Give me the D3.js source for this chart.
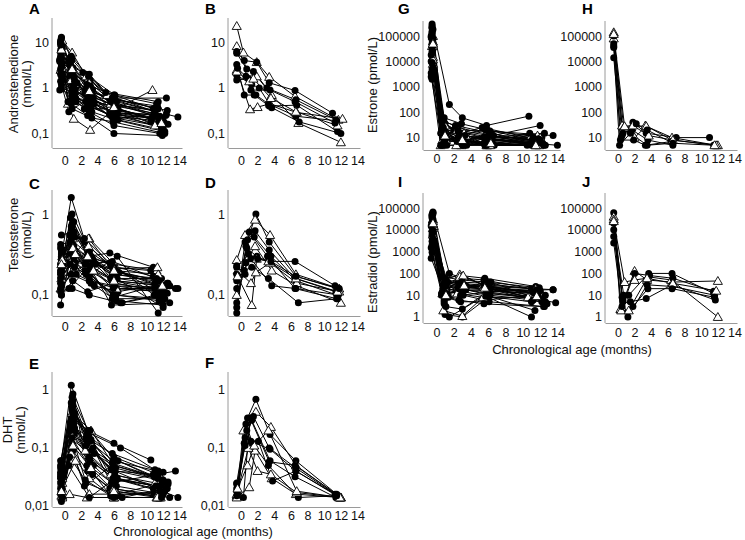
<!DOCTYPE html>
<html><head><meta charset="utf-8">
<script src="https://cdn.jsdelivr.net/npm/d3@7"></script>
<style>body{margin:0;background:#fff} text{font-family:"Liberation Sans",Arial,sans-serif}</style>
</head><body><svg id="c" width="745" height="540"></svg>
<script>
// ---------- axis ticks ----------
const xTicks = [0,2,4,6,8,10,12,14];
const xTickLabels = ["0","2","4","6","8","10","12","14"];
const yTicksAndro = [0.1,1,10];
const yLabAndro = ["0,1","1","10"];
const yTicksTesto = [0.1,1];
const yLabTesto = ["0,1","1"];
const yTicksDHT = [0.01,0.1,1];
const yLabDHT = ["0,01","0,1","1"];
const yTicksE1 = [10,100,1000,10000,100000];
const yLabE1 = ["10","100","1000","10000","100000"];
const yTicksE2 = [1,10,100,1000,10000,100000];
const yLabE2 = ["1","10","100","1000","10000","100000"];

// ---------- data: g = group (c: filled circle, t: open triangle), t = age (months), v = value ----------
const androA = [
 {g:"c",t:[-0.4,0.9,3.1,6.0,11.2],v:[12.5,4.2,1.5,0.55,0.3]},
 {g:"c",t:[-0.5,1.0,2.8,5.8,10.9],v:[9.8,2.8,1.1,0.45,0.25]},
 {g:"t",t:[-0.3,0.8,3.0,5.9,11.5],v:[8.5,2.0,1.3,0.5,0.22]},
 {g:"c",t:[-0.4,1.2,3.3,6.1,12.4],v:[7.2,1.5,0.8,0.6,0.6]},
 {g:"c",t:[-0.5,0.7,2.6,6.2,11.8],v:[6.0,3.1,2.0,0.35,0.2]},
 {g:"t",t:[-0.3,0.4,1.1,3.1,5.6,10.7],v:[5.5,0.45,0.21,0.12,0.3,0.9]},
 {g:"c",t:[-0.4,1.0,3.5,6.0,11.3],v:[4.5,1.2,0.6,0.25,0.15]},
 {g:"c",t:[-0.6,0.9,2.9,5.5,10.5],v:[3.8,0.9,0.5,0.3,0.18]},
 {g:"c",t:[-0.4,0.6,3.2,6.5,12.0],v:[3.0,1.8,0.4,0.2,0.12]},
 {g:"t",t:[-0.5,1.1,2.7,5.7,11.0],v:[2.5,0.6,0.55,0.4,0.15]},
 {g:"c",t:[-0.3,1.4,3.0,6.0,11.6],v:[2.2,0.5,0.3,0.15,0.1]},
 {g:"c",t:[-0.4,0.8,2.8,6.0,11.9],v:[1.8,0.45,0.25,0.1,0.09]},
 {g:"c",t:[-0.5,0.9,3.3,5.9,12.2],v:[1.4,0.35,0.22,0.18,0.1]},
 {g:"c",t:[-0.4,1.0,3.0,6.3,13.8],v:[1.0,0.8,0.7,0.5,0.23]},
 {g:"c",t:[-0.6,1.2,2.5,5.4,12.5],v:[0.9,0.7,0.9,0.6,0.32]},
 {g:"t",t:[-0.3,0.9,2.6,5.2,11.1],v:[11.0,6.0,1.8,0.7,0.3]},
 {g:"c",t:[-0.4,0.4,3.0,5.0,11.4],v:[8.0,0.5,2.0,0.8,0.5]},
 {g:"c",t:[-0.5,1.0,3.4,6.2,12.3],v:[5.0,2.2,0.9,0.4,0.25]},
 {g:"c",t:[-0.3,1.1,3.1,6.0,10.8],v:[3.5,1.0,1.1,0.7,0.35]},
 {g:"t",t:[-0.4,0.8,2.9,5.6,11.7],v:[2.8,1.5,0.7,0.45,0.3]},
 {g:"c",t:[-0.5,1.3,3.6,6.4,11.5],v:[2.0,0.9,0.45,0.28,0.2]},
 {g:"c",t:[-0.4,0.7,2.2,6.1,11.2],v:[6.8,3.5,2.2,0.7,0.45]},
 {g:"c",t:[-0.3,1.0,2.4,6.5,12.1],v:[1.5,1.1,0.35,0.35,0.18]},
 {g:"c",t:[-0.4,0.5,3.0,5.9,11.0],v:[1.2,0.3,0.6,0.2,0.28]},
 {g:"c",t:[-0.5,1.5,3.2,5.7,11.8],v:[10.0,1.3,0.5,0.3,0.13]},
 {g:"c",t:[-0.6,0.9,2.8,6.0,11.3],v:[4.0,0.7,0.35,0.55,0.4]},
 {g:"c",t:[-0.4,0.8,2.9,5.8,11.4],v:[13,5,1.8,0.6,0.35]},
 {g:"c",t:[-0.5,1.0,3.2,6.0,11.9],v:[11,2.5,0.9,0.3,0.2]},
 {g:"c",t:[-0.4,0.6,2.7,5.6,10.9],v:[9,3.8,1.2,0.5,0.27]},
 {g:"c",t:[-0.3,1.1,3.0,6.1,12.0],v:[7.5,1.0,0.45,0.22,0.14]},
 {g:"c",t:[-0.5,0.9,2.5,5.9,11.6],v:[6.5,1.9,0.75,0.32,0.24]},
 {g:"c",t:[-0.4,1.2,3.4,6.3,12.6],v:[5.2,1.4,0.55,0.35,0.16]},
 {g:"c",t:[-0.6,0.7,3.1,6.0,11.1],v:[4.2,2.4,0.65,0.42,0.33]},
 {g:"c",t:[-0.4,1.0,2.8,5.5,10.6],v:[3.2,0.8,0.4,0.26,0.22]},
 {g:"c",t:[-0.5,0.8,3.3,6.2,12.2],v:[2.6,0.55,0.3,0.2,0.11]},
 {g:"c",t:[-0.3,1.3,2.6,5.7,11.5],v:[1.6,0.6,0.5,0.24,0.19]},
 {g:"t",t:[-0.4,0.9,3.0,6.0,11.8],v:[7.0,2.6,0.85,0.38,0.17]},
 {g:"c",t:[-0.5,1.1,2.9,6.4,12.4],v:[8.8,1.7,0.62,0.28,0.26]}
];
const androB = [
 {g:"t",t:[-0.5,0.3,1.9,3.4,6.5,11.7],v:[23,6.0,3.7,1.75,0.65,0.2]},
 {g:"t",t:[-0.5,0.9,1.9,3.7,6.9,12.0],v:[8.3,2.2,1.8,0.7,0.17,0.064]},
 {g:"t",t:[-0.5,1.1,2.0,3.5,6.7,12.2],v:[2.5,0.34,0.38,0.45,0.29,0.21]},
 {g:"c",t:[-0.5,0.4,1.9,3.4,6.5,11.0],v:[6.3,4.0,3.7,1.3,0.88,0.28]},
 {g:"c",t:[-0.5,0.7,1.5,3.1,6.6,11.4],v:[5.8,2.6,2.3,1.0,0.55,0.2]},
 {g:"c",t:[-0.5,0.4,1.6,3.4,6.7,11.6],v:[3.3,0.7,0.7,0.4,0.42,0.11]},
 {g:"c",t:[-0.5,1.3,2.2,3.7,7.0,12.0],v:[1.9,1.2,1.0,0.37,0.18,0.1]},
 {g:"c",t:[-0.5,0.9,1.8,3.3,6.6,11.5],v:[1.5,1.6,0.7,0.45,0.24,0.19]},
 {g:"t",t:[-0.5,1.0,1.5,3.6,6.6,11.6],v:[2.3,1.4,1.6,0.6,0.3,0.15]},
 {g:"c",t:[-0.4,0.6,1.2,3.5,6.5,11.3],v:[2.7,1.8,0.9,0.9,0.5,0.17]}
];
const testoC = [
 {g:"c",t:[-0.4,0.8,2.5,6.0,11.5],v:[0.3,1.6,0.45,0.2,0.13]},
 {g:"c",t:[-0.4,0.9,3.0,5.8,11.0],v:[0.25,1.0,0.35,0.15,0.12]},
 {g:"c",t:[-0.5,0.8,3.2,6.1,12.0],v:[0.2,0.7,0.3,0.22,0.1]},
 {g:"t",t:[-0.3,1.0,3.0,6.0,11.2],v:[0.22,0.5,0.5,0.24,0.2]},
 {g:"c",t:[-0.4,1.1,2.8,5.5,10.8],v:[0.55,0.6,0.3,0.33,0.22]},
 {g:"c",t:[-0.5,0.7,3.5,6.2,12.5],v:[0.42,0.45,0.25,0.18,0.14]},
 {g:"c",t:[-0.4,1.2,2.6,5.9,11.8],v:[0.15,0.35,0.2,0.1,0.09]},
 {g:"t",t:[-0.3,0.9,2.9,6.0,11.5],v:[0.18,0.3,0.5,0.2,0.15]},
 {g:"c",t:[-0.4,0.6,3.0,6.3,13.5],v:[0.1,0.25,0.15,0.12,0.12]},
 {g:"c",t:[-0.5,1.0,3.3,5.7,12.8],v:[0.075,0.4,0.2,0.075,0.08]},
 {g:"c",t:[-0.4,1.3,3.1,6.4,11.4],v:[0.35,0.25,0.18,0.3,0.06]},
 {g:"c",t:[-0.3,0.8,2.4,6.0,10.5],v:[0.28,0.55,0.5,0.22,0.2]},
 {g:"t",t:[-0.5,1.0,3.5,6.1,12.3],v:[0.12,0.2,0.25,0.14,0.11]},
 {g:"c",t:[-0.4,0.9,3.0,6.8,11.2],v:[0.32,0.12,0.1,0.08,0.1]},
 {g:"c",t:[-0.4,1.1,2.7,5.9,12.0],v:[0.13,0.8,0.3,0.17,0.07]},
 {g:"c",t:[-0.5,0.7,3.2,5.6,11.6],v:[0.24,0.33,0.22,0.16,0.16]},
 {g:"t",t:[-0.3,1.2,2.9,6.0,11.3],v:[0.3,0.22,0.4,0.21,0.22]},
 {g:"c",t:[-0.4,1.0,3.6,6.5,12.6],v:[0.2,0.28,0.13,0.11,0.14]},
 {g:"c",t:[-0.5,0.5,2.5,6.2,11.0],v:[0.11,0.12,0.2,0.095,0.13]},
 {g:"c",t:[-0.4,0.9,3.4,5.5,10.9],v:[0.17,0.65,0.28,0.25,0.1]},
 {g:"c",t:[-0.3,1.4,3.0,6.0,13.8],v:[0.27,0.18,0.15,0.13,0.12]},
 {g:"t",t:[-0.4,0.8,2.6,6.3,11.9],v:[0.16,0.26,0.24,0.12,0.12]},
 {g:"c",t:[-0.5,1.1,3.1,5.8,12.2],v:[0.38,0.4,0.19,0.09,0.09]},
 {g:"c",t:[-0.4,1.0,2.8,6.0,11.7],v:[0.1,0.15,0.11,0.14,0.11]},
 {g:"c",t:[-0.4,0.7,3.8,6.6,11.5],v:[0.21,0.9,0.24,0.19,0.15]},
 {g:"c",t:[-0.5,1.2,3.0,7.0,12.0],v:[0.14,0.22,0.17,0.08,0.1]},
 {g:"c",t:[-0.4,0.8,2.9,5.8,11.8],v:[0.26,0.48,0.32,0.18,0.16]},
 {g:"c",t:[-0.5,1.0,3.1,6.1,12.3],v:[0.19,0.42,0.23,0.15,0.13]},
 {g:"c",t:[-0.3,0.9,2.7,6.0,11.0],v:[0.23,0.36,0.27,0.2,0.14]},
 {g:"c",t:[-0.4,1.1,3.3,5.9,12.1],v:[0.29,0.3,0.21,0.12,0.11]},
 {g:"c",t:[-0.5,0.7,2.6,6.2,11.5],v:[0.16,0.24,0.18,0.1,0.085]},
 {g:"c",t:[-0.4,1.2,3.0,5.6,10.8],v:[0.33,0.52,0.34,0.23,0.17]},
 {g:"c",t:[-0.4,0.9,3.4,6.4,12.8],v:[0.22,0.75,0.26,0.16,0.13]},
 {g:"t",t:[-0.3,1.0,2.8,6.0,11.4],v:[0.27,0.38,0.3,0.2,0.18]},
 {g:"c",t:[-0.5,0.8,3.2,6.3,12.0],v:[0.12,0.18,0.14,0.085,0.075]},
 {g:"c",t:[-0.4,1.1,2.5,5.8,11.2],v:[0.36,0.28,0.24,0.26,0.16]},
 {g:"c",t:[-0.5,0.6,3.0,6.1,12.5],v:[0.18,0.55,0.2,0.13,0.105]},
 {g:"t",t:[-0.4,1.3,3.5,6.0,11.9],v:[0.24,0.32,0.2,0.15,0.13]}
];
const testoD = [
 {g:"c",t:[-0.5,0.6,1.8,3.4,6.6,11.6],v:[0.06,0.4,1.0,0.45,0.17,0.12]},
 {g:"t",t:[-0.5,0.5,1.7,3.5,6.6,11.8],v:[0.27,0.55,0.85,0.55,0.18,0.12]},
 {g:"c",t:[-0.5,0.8,1.7,3.4,6.5,11.4],v:[0.07,0.48,0.62,0.36,0.16,0.11]},
 {g:"c",t:[-0.5,0.5,1.6,3.6,6.6,11.5],v:[0.08,0.45,0.52,0.3,0.15,0.1]},
 {g:"t",t:[-0.5,1.0,1.7,3.7,6.7,12.0],v:[0.1,0.3,0.4,0.2,0.13,0.08]},
 {g:"c",t:[-0.5,0.7,1.9,3.3,6.5,11.3],v:[0.12,0.38,0.3,0.26,0.26,0.13]},
 {g:"c",t:[-0.5,0.4,1.3,3.3,6.9,11.6],v:[0.15,0.2,0.22,0.16,0.08,0.09]},
 {g:"t",t:[-0.4,1.2,1.8,3.5,6.7,11.8],v:[0.2,0.14,0.19,0.25,0.14,0.11]},
 {g:"c",t:[-0.5,0.6,1.2,3.7,6.6,11.7],v:[0.18,0.25,0.28,0.13,0.12,0.1]},
 {g:"t",t:[-0.4,1.3,1.9,3.3,6.6,11.6],v:[0.17,0.075,0.28,0.26,0.16,0.11]},
 {g:"c",t:[-0.5,0.9,2.0,3.6,6.6,11.8],v:[0.22,0.32,0.28,0.26,0.17,0.12]},
 {g:"c",t:[-0.5,0.5,1.0,3.2,6.5,11.5],v:[0.23,0.18,0.6,0.3,0.12,0.09]}
];
const dhtE = [
 {g:"c",t:[-0.4,0.8,2.8,6.0,10.5],v:[0.06,1.2,0.2,0.12,0.062]},
 {g:"c",t:[-0.5,0.9,3.0,6.8,11.0],v:[0.05,0.75,0.18,0.1,0.042]},
 {g:"c",t:[-0.4,1.0,2.6,5.8,11.4],v:[0.04,0.55,0.15,0.08,0.04]},
 {g:"t",t:[-0.3,0.9,3.2,6.0,11.8],v:[0.03,0.4,0.2,0.05,0.03]},
 {g:"c",t:[-0.4,1.1,3.3,5.9,12.0],v:[0.045,0.35,0.12,0.06,0.038]},
 {g:"c",t:[-0.5,0.7,2.9,6.1,10.8],v:[0.025,0.28,0.1,0.04,0.035]},
 {g:"t",t:[-0.3,1.0,2.5,5.6,11.0],v:[0.015,0.14,0.09,0.035,0.025]},
 {g:"c",t:[-0.4,0.8,3.0,6.2,12.5],v:[0.03,0.25,0.07,0.03,0.02]},
 {g:"c",t:[-0.5,1.2,3.5,5.7,13.5],v:[0.02,0.18,0.05,0.025,0.04]},
 {g:"t",t:[-0.4,0.6,2.7,6.0,11.5],v:[0.015,0.016,0.014,0.014,0.014]},
 {g:"c",t:[-0.4,0.9,3.1,6.3,11.6],v:[0.018,0.12,0.06,0.028,0.022]},
 {g:"c",t:[-0.5,1.0,2.8,5.5,10.9],v:[0.016,0.09,0.04,0.02,0.016]},
 {g:"t",t:[-0.3,0.8,3.0,6.0,11.2],v:[0.014,0.08,0.03,0.014,0.014]},
 {g:"c",t:[-0.4,1.1,3.4,6.0,12.8],v:[0.055,0.3,0.035,0.018,0.014]},
 {g:"c",t:[-0.5,0.7,2.6,6.4,12.2],v:[0.035,0.2,0.025,0.015,0.018]},
 {g:"c",t:[-0.4,0.9,3.2,6.1,13.8],v:[0.028,0.45,0.14,0.04,0.014]},
 {g:"t",t:[-0.3,1.3,3.0,5.8,11.4],v:[0.02,0.06,0.016,0.016,0.016]},
 {g:"c",t:[-0.4,0.8,2.4,6.5,12.0],v:[0.012,0.1,0.022,0.06,0.028]},
 {g:"c",t:[-0.5,1.0,3.6,5.9,11.3],v:[0.06,0.65,0.08,0.05,0.03]},
 {g:"c",t:[-0.4,1.2,2.9,7.0,12.4],v:[0.022,0.22,0.16,0.014,0.02]},
 {g:"t",t:[-0.3,0.9,3.3,6.0,11.7],v:[0.025,0.16,0.11,0.02,0.014]},
 {g:"c",t:[-0.4,0.5,3.0,6.2,10.8],v:[0.015,0.05,0.014,0.03,0.02]},
 {g:"c",t:[-0.5,1.0,2.7,5.6,11.9],v:[0.032,0.85,0.05,0.015,0.025]},
 {g:"c",t:[-0.4,0.8,3.1,6.0,12.6],v:[0.04,0.3,0.2,0.065,0.024]},
 {g:"c",t:[-0.4,0.9,2.8,6.0,11.4],v:[0.05,0.5,0.17,0.07,0.035]},
 {g:"c",t:[-0.5,1.0,3.1,6.2,11.9],v:[0.038,0.38,0.13,0.045,0.028]},
 {g:"c",t:[-0.4,0.8,2.6,5.8,10.9],v:[0.028,0.32,0.11,0.055,0.032]},
 {g:"c",t:[-0.3,1.1,3.3,6.1,12.3],v:[0.02,0.26,0.09,0.035,0.02]},
 {g:"c",t:[-0.5,0.7,3.0,5.9,11.6],v:[0.045,0.2,0.065,0.03,0.018]},
 {g:"c",t:[-0.4,0.9,2.9,6.3,12.0],v:[0.017,0.15,0.05,0.022,0.016]},
 {g:"t",t:[-0.4,1.0,3.2,6.0,11.3],v:[0.018,0.11,0.045,0.018,0.014]},
 {g:"c",t:[-0.5,0.8,2.7,5.7,12.6],v:[0.03,0.6,0.12,0.042,0.026]},
 {g:"c",t:[-0.4,1.2,3.4,6.4,11.1],v:[0.024,0.4,0.1,0.03,0.022]},
 {g:"c",t:[-0.3,0.6,2.5,6.0,11.8],v:[0.014,0.07,0.028,0.014,0.014]}
];
const dhtF = [
 {g:"c",t:[-0.5,0.8,1.8,3.5,6.6,11.5],v:[0.025,0.33,0.69,0.17,0.06,0.016]},
 {g:"t",t:[-0.5,0.3,1.8,3.6,6.6,12.0],v:[0.015,0.2,0.42,0.23,0.05,0.014]},
 {g:"c",t:[-0.5,0.5,1.5,3.4,6.6,11.6],v:[0.02,0.15,0.35,0.1,0.045,0.015]},
 {g:"c",t:[-0.5,0.4,1.3,3.5,6.5,11.4],v:[0.014,0.12,0.3,0.06,0.032,0.014]},
 {g:"t",t:[-0.5,1.0,1.7,3.7,6.6,11.8],v:[0.014,0.021,0.09,0.03,0.016,0.014]},
 {g:"c",t:[-0.4,0.6,1.4,3.3,6.9,11.5],v:[0.016,0.26,0.12,0.05,0.014,0.015]},
 {g:"t",t:[-0.5,0.9,2.0,3.6,6.7,12.0],v:[0.016,0.1,0.04,0.035,0.017,0.014]},
 {g:"c",t:[-0.5,0.5,2.1,3.8,6.6,11.3],v:[0.018,0.11,0.13,0.027,0.04,0.016]},
 {g:"c",t:[-0.5,0.3,1.1,3.4,6.5,11.7],v:[0.024,0.014,0.33,0.058,0.05,0.015]},
 {g:"t",t:[-0.4,0.8,1.6,3.3,6.7,11.9],v:[0.02,0.05,0.11,0.2,0.018,0.014]},
 {g:"c",t:[-0.5,0.7,1.2,3.5,6.6,11.5],v:[0.015,0.2,0.13,0.095,0.04,0.015]}
];
const estroneG = [
 {g:"c",t:[-0.5,1.5,3.0,5.8,10.7],v:[300000,200,60,30,70]},
 {g:"c",t:[-0.5,0.6,2.5,6.5,12.0],v:[200000,50,25,12,30]},
 {g:"t",t:[-0.4,0.8,2.7,6.0,11.0],v:[100000,20,10,8,12]},
 {g:"c",t:[-0.5,0.7,3.1,5.5,12.5],v:[150000,30,15,10,15]},
 {g:"c",t:[-0.6,0.9,2.0,6.2,13.5],v:[100000,40,20,18,12]},
 {g:"t",t:[-0.4,0.5,2.9,5.9,11.5],v:[60000,5,5,5,5]},
 {g:"c",t:[-0.5,1.0,3.3,6.0,11.3],v:[50000,10,8,5,5]},
 {g:"c",t:[-0.4,0.6,2.6,5.7,12.2],v:[30000,5,12,20,10]},
 {g:"c",t:[-0.5,0.8,3.0,6.4,14.0],v:[20000,25,5,8,5]},
 {g:"t",t:[-0.4,1.1,2.4,6.1,11.0],v:[15000,8,20,12,8]},
 {g:"c",t:[-0.6,0.9,3.5,6.0,10.5],v:[10000,12,5,6,5]},
 {g:"c",t:[-0.5,0.7,2.8,5.3,12.0],v:[5000,5,15,25,8]},
 {g:"c",t:[-0.6,0.5,3.1,6.7,11.8],v:[2500,15,7,5,10]},
 {g:"c",t:[-0.5,1.2,2.5,6.0,11.2],v:[2000,5,5,10,5]},
 {g:"t",t:[-0.4,0.9,3.2,5.8,11.7],v:[8000,20,15,5,12]},
 {g:"c",t:[-0.5,0.6,2.2,6.3,12.3],v:[250000,45,30,15,6]},
 {g:"c",t:[-0.5,1.0,3.0,5.5,10.8],v:[120000,35,10,6,15]},
 {g:"c",t:[-0.4,0.8,2.6,6.6,11.5],v:[80000,18,8,12,5]},
 {g:"t",t:[-0.5,0.7,3.4,6.0,12.0],v:[40000,8,12,8,10]},
 {g:"c",t:[-0.5,0.9,2.9,5.9,11.1],v:[25000,60,35,20,8]},
 {g:"c",t:[-0.4,1.1,3.2,6.1,12.6],v:[6000,10,6,15,5]},
 {g:"c",t:[-0.6,0.5,2.7,5.6,11.4],v:[3500,5,9,5,7]},
 {g:"t",t:[-0.4,1.0,2.3,6.2,11.9],v:[12000,30,5,5,5]},
 {g:"c",t:[-0.5,0.8,2.8,6.0,11.6],v:[220000,25,12,9,6]},
 {g:"c",t:[-0.4,0.9,3.0,5.9,12.0],v:[180000,15,8,6,8]},
 {g:"c",t:[-0.5,0.7,2.5,6.2,11.2],v:[130000,40,18,10,10]},
 {g:"c",t:[-0.6,1.0,3.2,5.7,10.9],v:[90000,8,6,5,6]},
 {g:"c",t:[-0.5,0.6,2.9,6.1,12.4],v:[70000,20,10,12,5]},
 {g:"c",t:[-0.4,1.1,3.1,6.4,11.8],v:[45000,12,5,7,9]},
 {g:"c",t:[-0.5,0.8,2.6,5.8,11.4],v:[35000,6,9,5,5]},
 {g:"c",t:[-0.6,0.9,3.3,6.0,12.2],v:[18000,18,12,8,6]},
 {g:"c",t:[-0.5,0.7,2.4,5.5,11.0],v:[9000,10,7,10,5]},
 {g:"t",t:[-0.4,1.0,3.0,6.3,11.5],v:[50000,12,8,6,5]}
];
const estroneH = [
 {g:"c",t:[-0.5,0.4,1.8,3.4,7.0,11.0],v:[14000,10,40,15,10,10]},
 {g:"t",t:[-0.5,0.5,1.6,3.3,6.5,12.0],v:[140000,30,25,30,8,5]},
 {g:"c",t:[-0.5,0.2,1.5,3.5,6.6,11.5],v:[35000,5,15,5,6,5]},
 {g:"t",t:[-0.5,0.7,2.0,3.4,6.5,11.8],v:[80000,25,10,28,10,5]},
 {g:"c",t:[-0.5,0.6,1.7,3.6,6.6],v:[50000,15,20,8,5]},
 {g:"c",t:[-0.5,0.3,1.9,3.3,6.4],v:[100000,8,8,5,7]},
 {g:"t",t:[-0.5,0.8,1.8,3.7,6.6,11.6],v:[120000,28,30,12,8,5]},
 {g:"c",t:[-0.5,0.5,2.2,3.5,6.6],v:[40000,12,35,20,6]}
];
const estradiolI = [
 {g:"c",t:[-0.4,1.5,3.0,5.5,11.0],v:[65000,100,60,50,20]},
 {g:"c",t:[-0.5,1.0,2.8,5.6,11.5],v:[40000,60,80,60,25]},
 {g:"t",t:[-0.4,0.9,2.7,5.4,11.2],v:[30000,50,90,30,12]},
 {g:"c",t:[-0.5,0.8,3.2,6.0,12.0],v:[20000,30,25,20,15]},
 {g:"c",t:[-0.4,1.2,2.5,5.8,13.5],v:[10000,20,40,15,18]},
 {g:"t",t:[-0.3,0.7,2.9,5.5,10.8],v:[15000,12,30,25,8]},
 {g:"c",t:[-0.5,1.0,3.0,6.0,11.0],v:[5000,1.3,1,8,1.0]},
 {g:"c",t:[-0.4,0.9,1.5,5.7,11.4],v:[2000,4,1,10,2]},
 {g:"c",t:[-0.6,1.1,2.8,6.1,12.5],v:[500,8,5,5,3]},
 {g:"t",t:[-0.4,0.8,3.0,5.9,10.6],v:[12000,2,1.1,12,8]},
 {g:"c",t:[-0.5,1.3,3.3,5.5,12.2],v:[8000,40,20,30,5]},
 {g:"c",t:[-0.4,0.6,2.6,6.2,13.8],v:[25000,10,15,20,4.5]},
 {g:"c",t:[-0.5,1.0,3.1,5.6,11.7],v:[50000,25,10,6,10]},
 {g:"t",t:[-0.4,1.2,2.4,5.4,11.3],v:[18000,15,12,8,8]},
 {g:"c",t:[-0.5,0.9,3.5,6.3,12.6],v:[3000,5,25,40,5]},
 {g:"c",t:[-0.4,0.7,2.9,5.8,11.9],v:[60000,70,50,40,22]},
 {g:"c",t:[-0.6,1.1,3.0,6.0,12.0],v:[1500,3,2.3,15,12]},
 {g:"t",t:[-0.4,0.8,2.7,5.6,11.5],v:[6000,18,70,30,20]},
 {g:"c",t:[-0.5,1.0,3.2,6.1,13.5],v:[35000,45,30,25,18]},
 {g:"c",t:[-0.4,1.4,2.6,5.5,12.4],v:[4000,8,6,4,3]},
 {g:"c",t:[-0.5,0.6,3.4,6.2,11.2],v:[900,12,18,10,6]},
 {g:"t",t:[-0.4,0.9,3.1,5.7,12.1],v:[25000,28,80,25,12]},
 {g:"c",t:[-0.4,1.0,2.9,5.6,11.6],v:[55000,50,40,35,18]},
 {g:"c",t:[-0.5,0.9,3.1,5.9,12.0],v:[45000,35,30,22,16]},
 {g:"c",t:[-0.4,0.8,2.7,6.0,11.2],v:[30000,22,25,18,14]},
 {g:"c",t:[-0.5,1.1,3.0,5.5,12.6],v:[22000,40,35,28,10]},
 {g:"c",t:[-0.6,0.7,2.6,6.1,11.8],v:[15000,15,20,12,9]},
 {g:"c",t:[-0.4,1.0,3.3,5.8,11.4],v:[9000,25,18,16,12]},
 {g:"c",t:[-0.5,0.9,2.8,6.2,12.3],v:[6000,6,10,14,6]},
 {g:"c",t:[-0.4,1.2,3.0,5.7,11.0],v:[3500,12,15,9,5]},
 {g:"c",t:[-0.5,0.8,2.5,6.0,12.8],v:[2000,30,22,20,4]},
 {g:"t",t:[-0.4,1.1,3.2,5.6,11.6],v:[20000,10,28,22,9]}
];
const estradiolJ = [
 {g:"c",t:[-0.5,0.5,1.3,3.7,6.5,11.5],v:[60000,8,10,100,100,12]},
 {g:"t",t:[-0.5,0.3,2.0,3.5,6.5,12.0],v:[40000,2.3,130,50,40,45]},
 {g:"c",t:[-0.5,0.6,1.2,3.5,6.6,11.6],v:[20000,5,1,30,25,10]},
 {g:"t",t:[-0.5,0.4,1.3,3.6,6.4,12.0],v:[30000,2,2,70,50,1]},
 {g:"c",t:[-0.5,0.7,1.5,3.4,6.5,11.7],v:[10000,10,5,7,30,6]},
 {g:"c",t:[-0.5,0.5,2.0,3.8,6.6,11.5],v:[2500,3,100,80,60,15]},
 {g:"t",t:[-0.5,0.8,2.0,3.5,6.6,11.8],v:[25000,40,50,60,35,16]},
 {g:"c",t:[-0.5,0.6,1.8,3.6,6.5,11.6],v:[5000,6,3,20,20,8]}
];

// ---------- layout ----------
const xDomain = [-1.55, 14.3];
const panels = [
 {id:"A",data:androA,yt:yTicksAndro,yl:yLabAndro,l:52,r:182,t:18,b:148,yd:[0.048,34.5],lx:29,ly:14,xp:8},
 {id:"B",data:androB,yt:yTicksAndro,yl:yLabAndro,l:228,r:360,t:18,b:148,yd:[0.048,34.5],lx:205,ly:14,xp:8},
 {id:"C",data:testoC,yt:yTicksTesto,yl:yLabTesto,l:52,r:182,t:190,b:316,yd:[0.055,1.98],lx:29,ly:189,xp:6},
 {id:"D",data:testoD,yt:yTicksTesto,yl:yLabTesto,l:228,r:360,t:190,b:316,yd:[0.055,1.98],lx:205,ly:188,xp:6},
 {id:"E",data:dhtE,yt:yTicksDHT,yl:yLabDHT,l:52,r:182,t:372,b:507,yd:[0.0096,2.04],lx:29,ly:369,xp:4},
 {id:"F",data:dhtF,yt:yTicksDHT,yl:yLabDHT,l:228,r:360,t:372,b:507,yd:[0.0096,2.04],lx:205,ly:368,xp:4},
 {id:"G",data:estroneG,yt:yTicksE1,yl:yLabE1,l:423,r:560,t:21,b:150,yd:[3.25,390000],lx:398,ly:14,xp:4},
 {id:"H",data:estroneH,yt:yTicksE1,yl:yLabE1,l:605,r:737,t:21,b:150,yd:[3.25,390000],lx:582,ly:14,xp:4},
 {id:"I",data:estradiolI,yt:yTicksE2,yl:yLabE2,l:423,r:560,t:193,b:323,yd:[0.53,490000],lx:398,ly:187,xp:5},
 {id:"J",data:estradiolJ,yt:yTicksE2,yl:yLabE2,l:605,r:737,t:193,b:323,yd:[0.53,490000],lx:582,ly:187,xp:5}
];

const svg = d3.select("#c");
const FONT = "'Liberation Sans', Arial, sans-serif";
const tri = d3.symbol().type(d3.symbolTriangle).size(36);

panels.forEach(p => {
  const x = d3.scaleLinear().domain(xDomain).range([p.l, p.r]);
  const y = d3.scaleLog().domain(p.yd).range([p.b, p.t]);
  const g = svg.append("g");

  const xa = d3.axisBottom(x).tickValues(xTicks).tickFormat((d,i)=>xTickLabels[i]).tickSize(0).tickSizeOuter(0).tickPadding(p.xp);
  const gx = g.append("g").attr("transform",`translate(0,${p.b})`).call(xa);
  const ya = d3.axisLeft(y).tickValues(p.yt).tickFormat((d,i)=>p.yl[i]).tickSize(0).tickSizeOuter(0).tickPadding(3);
  const gy = g.append("g").attr("transform",`translate(${p.l},0)`).call(ya);
  [gx,gy].forEach(a => {
    a.attr("font-family",FONT).attr("font-size",12.5);
    a.select(".domain").attr("stroke","#9a9a9a").attr("stroke-width",1);
    a.selectAll("text").attr("fill","#111");
  });
  gy.select(".domain").attr("d",`M0,${p.b}V${p.t}`);

  const line = d3.line().x(d=>x(d[0])).y(d=>y(d[1]));
  p.data.forEach(s => {
    const pts = s.t.map((t,i)=>[t,s.v[i]]);
    g.append("path").attr("d",line(pts)).attr("fill","none").attr("stroke","#000").attr("stroke-width",1);
  });
  p.data.forEach(s => {
    s.t.forEach((t,i) => {
      if (s.g === "c") {
        g.append("circle").attr("cx",x(t)).attr("cy",y(s.v[i])).attr("r",3.5).attr("fill","#000");
      } else {
        g.append("path").attr("d",tri).attr("transform",`translate(${x(t)},${y(s.v[i])+0.8})`)
          .attr("fill","#fff").attr("stroke","#000").attr("stroke-width",0.9);
      }
    });
  });

  svg.append("text").attr("x",p.lx).attr("y",p.ly).attr("font-family",FONT)
    .attr("font-size",15).attr("font-weight","bold").text(p.id);
});

// y-axis titles
const yTitles = [
 {lines:["Androstenedione","(nmol/L)"],xs:[18,31],cy:84},
 {lines:["Testosterone","(nmol/L)"],xs:[18,31],cy:235},
 {lines:["DHT","(nmol/L)"],xs:[12,25],cy:430},
 {lines:["Estrone (pmol/L)"],xs:[377],cy:85},
 {lines:["Estradiol (pmol/L)"],xs:[377],cy:262}
];
yTitles.forEach(tt => {
  tt.lines.forEach((s,i) => {
    svg.append("text").attr("transform",`translate(${tt.xs[i]},${tt.cy}) rotate(-90)`)
      .attr("text-anchor","middle").attr("font-family",FONT).attr("font-size",13).attr("fill","#111").text(s);
  });
});
// x-axis titles
[{x:193,y:536},{x:572,y:354}].forEach(o => {
  svg.append("text").attr("x",o.x).attr("y",o.y).attr("text-anchor","middle")
    .attr("font-family",FONT).attr("font-size",13).attr("fill","#111").text("Chronological age (months)");
});
</script></body></html>
